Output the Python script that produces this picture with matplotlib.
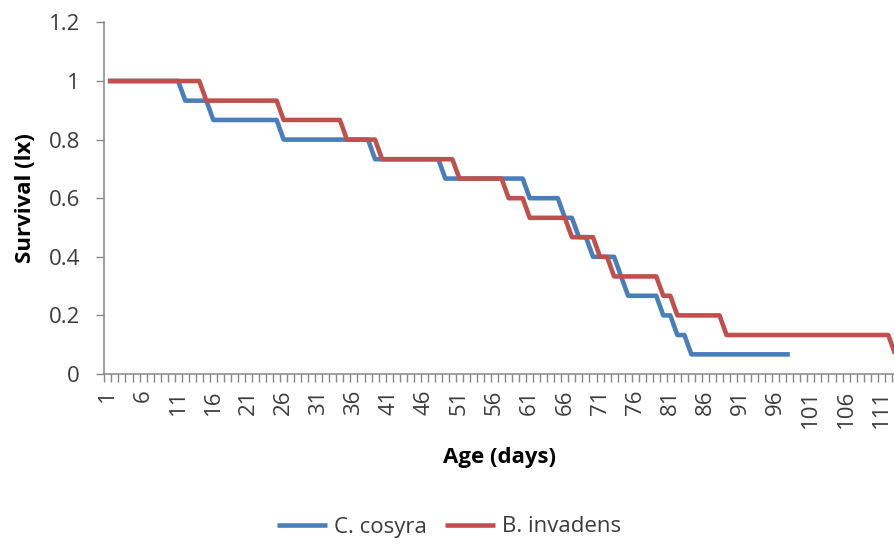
import matplotlib
matplotlib.use("Agg")
import matplotlib.pyplot as plt
import numpy as np

plt.rcParams['font.family'] = ['Open Sans', 'DejaVu Sans']

# Survival (lx) by day
c_cosyra = [
    1, 1, 1, 1, 1, 1, 1, 1, 1, 1,                                    # 1-10
    1, 0.933, 0.933, 0.933, 0.933, 0.867, 0.867, 0.867, 0.867, 0.867,  # 11-20
    0.867, 0.867, 0.867, 0.867, 0.867, 0.8, 0.8, 0.8, 0.8, 0.8,        # 21-30
    0.8, 0.8, 0.8, 0.8, 0.8, 0.8, 0.8, 0.8, 0.733, 0.733,              # 31-40
    0.733, 0.733, 0.733, 0.733, 0.733, 0.733, 0.733, 0.733, 0.667, 0.667,  # 41-50
    0.667, 0.667, 0.667, 0.667, 0.667, 0.667, 0.667, 0.667, 0.667, 0.667,  # 51-60
    0.6, 0.6, 0.6, 0.6, 0.6, 0.533, 0.533, 0.467, 0.467, 0.4,          # 61-70
    0.4, 0.4, 0.4, 0.333, 0.267, 0.267, 0.267, 0.267, 0.267, 0.2,      # 71-80
    0.2, 0.133, 0.133, 0.067, 0.067, 0.067, 0.067, 0.067, 0.067, 0.067,  # 81-90
    0.067, 0.067, 0.067, 0.067, 0.067, 0.067, 0.067, 0.067,            # 91-98
]

b_invadens = [
    1, 1, 1, 1, 1, 1, 1, 1, 1, 1,                                      # 1-10
    1, 1, 1, 1, 0.933, 0.933, 0.933, 0.933, 0.933, 0.933,              # 11-20
    0.933, 0.933, 0.933, 0.933, 0.933, 0.867, 0.867, 0.867, 0.867, 0.867,  # 21-30
    0.867, 0.867, 0.867, 0.867, 0.8, 0.8, 0.8, 0.8, 0.8, 0.733,        # 31-40
    0.733, 0.733, 0.733, 0.733, 0.733, 0.733, 0.733, 0.733, 0.733, 0.733,  # 41-50
    0.667, 0.667, 0.667, 0.667, 0.667, 0.667, 0.667, 0.6, 0.6, 0.6,    # 51-60
    0.533, 0.533, 0.533, 0.533, 0.533, 0.533, 0.467, 0.467, 0.467, 0.467,  # 61-70
    0.4, 0.4, 0.333, 0.333, 0.333, 0.333, 0.333, 0.333, 0.333, 0.267,  # 71-80
    0.267, 0.2, 0.2, 0.2, 0.2, 0.2, 0.2, 0.2, 0.133, 0.133,            # 81-90
    0.133, 0.133, 0.133, 0.133, 0.133, 0.133, 0.133, 0.133, 0.133, 0.133,  # 91-100
    0.133, 0.133, 0.133, 0.133, 0.133, 0.133, 0.133, 0.133, 0.133, 0.133,  # 101-110
    0.133, 0.133, 0.067,                                               # 111-113
]

series_names = ["C. cosyra", "B. invadens"]
tick_days = [1, 6, 11, 16, 21, 26, 31, 36, 41, 46, 51, 56, 61, 66, 71, 76,
             81, 86, 91, 96, 101, 106, 111]
y_ticks = [0, 0.2, 0.4, 0.6, 0.8, 1.0, 1.2]
y_tick_labels = ["0", "0.2", "0.4", "0.6", "0.8", "1", "1.2"]

W, H = 895, 546
fig = plt.figure(figsize=(W / 100, H / 100), dpi=100)
left_px, right_px, top_px, bottom_px = 104.4, 895.0, 22.4, 374.0
ax = fig.add_axes([left_px / W, 1 - bottom_px / H,
                   (right_px - left_px) / W, (bottom_px - top_px) / H])

blue = "#4a7ebb"
red = "#c0504d"
lw = 3.3
days_c = np.arange(1, len(c_cosyra) + 1)
days_b = np.arange(1, len(b_invadens) + 1)
ax.plot(days_c, c_cosyra, color=blue, lw=lw, solid_joinstyle='round',
        solid_capstyle='butt', label=series_names[0])
ax.plot(days_b, b_invadens, color=red, lw=lw, solid_joinstyle='round',
        solid_capstyle='butt', label=series_names[1])

spp = (right_px - left_px) / 7.03
ax.set_xlim(0.5, 0.5 + spp)
ax.set_ylim(0, 1.2)

grey = "#868686"
for s in ["top", "right"]:
    ax.spines[s].set_visible(False)
for s in ["left", "bottom"]:
    ax.spines[s].set_color(grey)
    ax.spines[s].set_linewidth(1.1)

txt = "#3b3b3b"
ax.set_xticks(tick_days)
ax.set_xticklabels([str(d) for d in tick_days], rotation=90, fontsize=16, color=txt)
ax.set_xticks(np.arange(0.5, 113.0, 1.0), minor=True)
ax.tick_params(axis='x', which='major', length=0, pad=11)
ax.tick_params(axis='x', which='minor', length=5.5, width=1.0, color=grey)

ax.set_yticks(y_ticks)
ax.set_yticklabels(y_tick_labels, fontsize=16, color=txt)
ax.tick_params(axis='y', which='major', length=5.5, width=1.0, color=grey, pad=12)

ax.set_xlabel("Age (days)", fontsize=16, fontweight='bold', color='black', labelpad=14)
ax.set_ylabel("Survival (lx)", fontsize=16, fontweight='bold', color='black', labelpad=9)

handles, labels = ax.get_legend_handles_labels()
leg = fig.legend(handles, labels, loc='center', bbox_to_anchor=(449 / W, 1 - 527 / H),
                 ncol=2, frameon=False, fontsize=16, handlelength=2.25,
                 handletextpad=0.3, columnspacing=0.85)
for t in leg.get_texts():
    t.set_color(txt)

fig.savefig("out.png", dpi=100)
